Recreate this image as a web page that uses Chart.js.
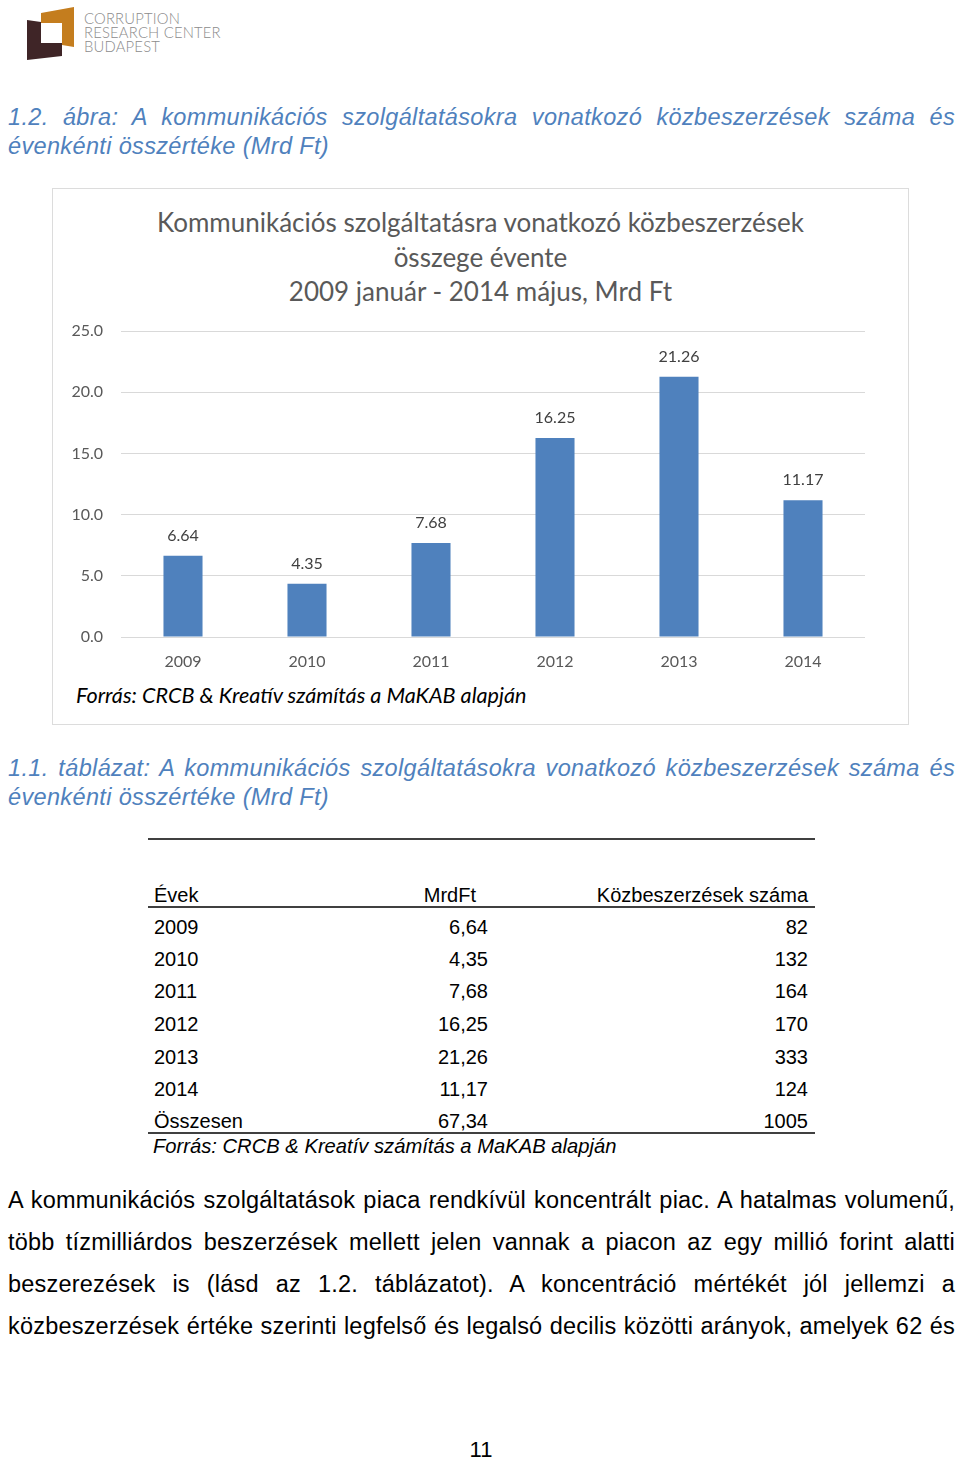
<!DOCTYPE html>
<html lang="hu">
<head>
<meta charset="utf-8">
<title>Kommunikációs szolgáltatásra vonatkozó közbeszerzések</title>
<script src="https://cdn.jsdelivr.net/npm/chart.js@4.4.1/dist/chart.umd.min.js"></script>
<style>
  html, body { margin: 0; padding: 0; background: #fff; }
  #page { position: relative; width: 960px; height: 1462px; overflow: hidden; font-family: "Liberation Sans", Arial, sans-serif; color: #000; }
  .abs { position: absolute; }
  .logo-text { left: 84px; top: 11px; font-family: Lato, sans-serif; font-weight: 300; font-size: 14.8px; line-height: 14px; color: #8c8c8c; letter-spacing: 0.2px; }
  .caption { left: 8px; width: 947px; font-size: 23.5px; line-height: 29px; letter-spacing: 0.35px; font-style: italic; color: #4f81bd; }
  .jl { text-align: justify; text-align-last: justify; white-space: nowrap; }
  #chartBox { left: 52px; top: 188px; width: 855px; height: 535px; border: 1px solid #dcdcdc; }
  #chartTitle { left: 52px; top: 205px; width: 857px; text-align: center; font-family: Lato, sans-serif; font-size: 26px; line-height: 34.5px; color: #595959; }
  #chartWrap { left: 52px; top: 315px; width: 857px; height: 360px; }
  #chartSource { left: 76px; top: 683px; font-family: Lato, sans-serif; font-style: italic; font-size: 21.6px; line-height: 24px; color: #000; }
  #tbl { left: 148px; top: 838px; width: 667px; border-collapse: collapse; table-layout: fixed; font-size: 20px; }
  #tbl td { padding: 0; height: 32.6px; line-height: 22px; vertical-align: middle; box-sizing: border-box; }
  #tbl td span { position: relative; }
  #tbl td.c1 { padding-left: 6px; text-align: left; }
  #tbl td.c2 { padding-right: 6px; text-align: right; }
  #tbl td.c3 { padding-right: 7px; text-align: right; }
  #tblSource { left: 153px; top: 1134px; font-size: 20.2px; line-height: 24px; font-style: italic; }
  #bodyText { left: 8px; top: 1179px; width: 947px; font-size: 23.5px; line-height: 42px; letter-spacing: 0.2px; }
  #pageNo { left: 0; width: 962px; top: 1438px; text-align: center; font-size: 22px; line-height: 24px; }
</style>
</head>
<body>
<div id="page">

  <!-- logo -->
  <svg class="abs" style="left:0;top:0" width="80" height="64">
    <polygon points="41,13 74,7 74,47 62,45 62,23 41,23" fill="#c47d1e"/>
    <polygon points="27,20 41,22 41,43 62,43 62,56 27,60" fill="#3f2527"/>
  </svg>
  <div class="abs logo-text">CORRUPTION<br>RESEARCH CENTER<br>BUDAPEST</div>

  <div class="abs caption" style="top:103px">
    <div class="jl">1.2. ábra: A kommunikációs szolgáltatásokra vonatkozó közbeszerzések száma és</div>
    <div>évenkénti összértéke (Mrd Ft)</div>
  </div>

  <div class="abs" id="chartBox"></div>
  <div class="abs" id="chartTitle">Kommunikációs szolgáltatásra vonatkozó közbeszerzések<br>összege évente<br>2009 január - 2014 május, Mrd Ft</div>
  <div class="abs" id="chartWrap"><canvas id="bars"></canvas></div>
  <div class="abs" id="chartSource">Forrás: CRCB &amp; Kreatív számítás a MaKAB alapján</div>

  <div class="abs caption" style="top:754px">
    <div class="jl">1.1. táblázat: A kommunikációs szolgáltatásokra vonatkozó közbeszerzések száma és</div>
    <div>évenkénti összértéke (Mrd Ft)</div>
  </div>

  <table class="abs" id="tbl">
    <colgroup><col style="width:252px"><col style="width:94px"><col style="width:321px"></colgroup>
    <tbody id="tblBody"></tbody>
  </table>
  <div class="abs" id="tblSource">Forrás: CRCB &amp; Kreatív számítás a MaKAB alapján</div>

  <div class="abs" id="bodyText">
    <div class="jl">A kommunikációs szolgáltatások piaca rendkívül koncentrált piac. A hatalmas volumenű,</div>
    <div class="jl">több tízmilliárdos beszerzések mellett jelen vannak a piacon az egy millió forint alatti</div>
    <div class="jl">beszerezések is (lásd az 1.2. táblázatot). A koncentráció mértékét jól jellemzi a</div>
    <div class="jl">közbeszerzések értéke szerinti legfelső és legalsó decilis közötti arányok, amelyek 62 és</div>
  </div>

  <div class="abs" id="pageNo">11</div>
</div>

<script>
/* ---------------- DATA ---------------- */
const years = ["2009", "2010", "2011", "2012", "2013", "2014"];
const mrdFt = [6.64, 4.35, 7.68, 16.25, 21.26, 11.17];
const tenderCounts = [82, 132, 164, 170, 333, 124];
const yTicks = [0, 5, 10, 15, 20, 25];
const totalLabel = "Összesen";
const totalMrdFt = "67,34";
const totalCount = "1005";

/* ---------------- TABLE ---------------- */
const tbody = document.getElementById("tblBody");

function addRow(a, b, c, style, shift) {
    const tr = document.createElement("tr");
    tr.innerHTML =
        '<td class="c1"><span>' + a + '</span></td>' +
        '<td class="c2"><span>' + b + '</span></td>' +
        '<td class="c3"><span>' + c + '</span></td>';
    tr.querySelectorAll("td").forEach(td => {
        if (style) td.setAttribute("style", style);
        td.firstChild.style.top = (shift || 0) + "px";
    });
    tbody.appendChild(tr);
    return tr;
}

// empty row under the top rule, then the header
addRow("&nbsp;", "", "", "border-top:2px solid #404040;height:42px");
const head = addRow("Évek", "MrdFt", "Közbeszerzések száma",
    "border-bottom:2px solid #404040;height:26px;vertical-align:bottom");
head.children[1].style.paddingRight = "18px";

years.forEach((y, i) => {
    addRow(y, mrdFt[i].toFixed(2).replace(".", ","), tenderCounts[i], null, 3);
});

addRow(totalLabel, totalMrdFt, totalCount,
    "border-bottom:2px solid #404040;height:30px", 4);

/* ---------------- CHART ---------------- */
const barLabels = {
    id: "barLabels",
    afterDatasetsDraw(chart) {
        const ctx = chart.ctx;
        const meta = chart.getDatasetMeta(0);
        ctx.save();
        ctx.font = "16px Lato";
        ctx.fillStyle = "#404040";
        ctx.textAlign = "center";
        ctx.textBaseline = "middle";
        meta.data.forEach((bar, i) => {
            ctx.fillText(mrdFt[i].toFixed(2), bar.x, bar.y - 20);
        });
        ctx.restore();
    }
};

new Chart(document.getElementById("bars"), {
    type: "bar",
    data: {
        labels: years,
        datasets: [{
            data: mrdFt,
            backgroundColor: "#4f81bd",
            borderWidth: 0,
            categoryPercentage: 1,
            barPercentage: 0.315
        }]
    },
    options: {
        responsive: true,
        maintainAspectRatio: false,
        animation: false,
        layout: { padding: { top: 16, right: 44, left: 0, bottom: 0 } },
        plugins: {
            legend: { display: false },
            tooltip: { enabled: false }
        },
        scales: {
            x: {
                grid: { display: false },
                border: { display: false },
                ticks: {
                    color: "#595959",
                    font: { family: "Lato", size: 16 },
                    padding: 7
                },
                afterFit(scale) { scale.height = 38; }
            },
            y: {
                min: 0,
                max: 25,
                afterBuildTicks(scale) {
                    scale.ticks = yTicks.map(v => ({ value: v }));
                },
                grid: { color: "#d9d9d9", lineWidth: 1, drawTicks: false },
                border: { display: false },
                ticks: {
                    color: "#595959",
                    font: { family: "Lato", size: 16 },
                    padding: 18,
                    callback: v => Number(v).toFixed(1)
                },
                afterFit(scale) {
                    scale.width = 69;
                    scale.paddingTop = 0;
                    scale.paddingBottom = 0;
                }
            }
        }
    },
    plugins: [barLabels]
});
</script>
</body>
</html>
